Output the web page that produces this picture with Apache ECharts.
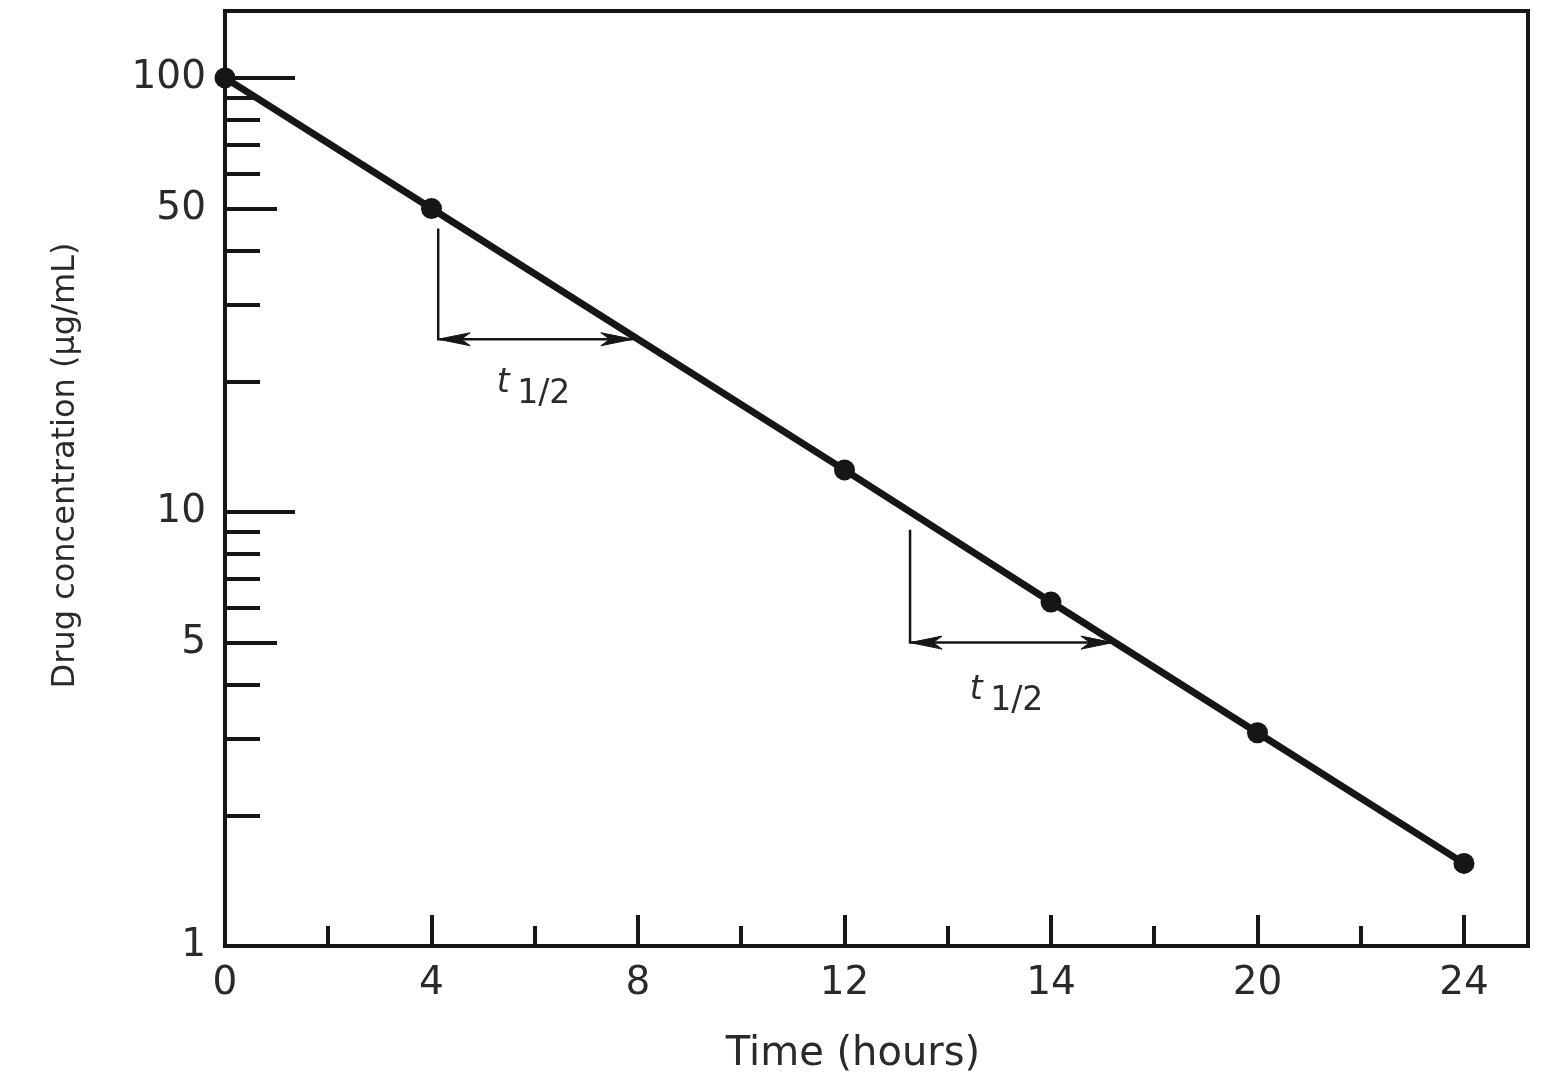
<!DOCTYPE html>
<html>
<head>
<meta charset="utf-8">
<script src="https://cdn.jsdelivr.net/npm/echarts@6/dist/echarts.min.js"></script>
<style>
html,body{margin:0;padding:0;background:#fff}
#c{width:1551px;height:1081px}
</style>
</head>
<body>
<div id="c"></div>
<script>
// ---- data ----
const timeHours = [0, 4, 12, 16, 20, 24];
const concentration = [100, 50, 12.5, 6.2, 3.1, 1.55];

const xTickValues = [0, 4, 8, 12, 16, 20, 24];
const xTickLabels = ['0', '4', '8', '12', '14', '20', '24'];
const xMinorTicks = [2, 6, 10, 14, 18, 22];

const yLabelValues = [1, 5, 10, 50, 100];
const yLabelTexts = ['1', '5', '10', '50', '100'];
const yMajorTicks = [10, 100];
const yMidTicks = [5, 50];
const yMinorTicks = [2, 3, 4, 6, 7, 8, 9, 20, 30, 40, 60, 70, 80, 90];

// half-life brackets (time start, time end, top of vertical, level of arrow)
const halfLifeStart = [4.13, 13.27];
const halfLifeEnd = [7.9, 17.2];
const halfLifeTop = [45, 9.1];
const halfLifeLevel = [25, 5];
const halfLifeLabelT = [5.39, 14.55];
const halfLifeLabelC = [19.8, 3.89];

const xTitle = 'Time (hours)';
const yTitle = 'Drug concentration (μg/mL)';

// ---- chart ----
const ink = '#161616';
const txt = '#2a2a2a';
const FONT = 'DejaVu Sans';

function lookup(values, texts, v) {
  for (let i = 0; i < values.length; i++) {
    if (Math.abs(values[i] - v) < 1e-6 * Math.max(1, Math.abs(v))) return texts[i];
  }
  return '';
}

const chart = echarts.init(document.getElementById('c'), null, {renderer: 'canvas'});

const commonY = {
  type: 'log', logBase: 10, min: 1, max: 142.6, gridIndex: 0, position: 'left',
  splitLine: {show: false}, minorTick: {show: false}, minorSplitLine: {show: false}
};
const commonX = {
  type: 'value', min: 0, max: 25.24, gridIndex: 0, position: 'bottom',
  splitLine: {show: false}, minorTick: {show: false}
};

const halfLifeData = halfLifeStart.map((s, i) => [s, halfLifeEnd[i], halfLifeTop[i], halfLifeLevel[i], halfLifeLabelT[i], halfLifeLabelC[i]]);

function arrowHead(tip, dir) {
  const L = 32, w = 6.5, notch = 23;
  return [
    [tip[0], tip[1]],
    [tip[0] + dir * L, tip[1] - w],
    [tip[0] + dir * notch, tip[1]],
    [tip[0] + dir * L, tip[1] + w]
  ];
}

const option = {
  backgroundColor: '#ffffff',
  animation: false,
  grid: {
    left: 225, right: 23, top: 11, bottom: 135,
    show: true, borderColor: ink, borderWidth: 4, backgroundColor: 'transparent',
    containLabel: false, outerBoundsMode: 'none'
  },
  xAxis: [
    Object.assign({}, commonX, {
      name: xTitle, nameLocation: 'middle', nameGap: 89,
      nameTextStyle: {fontFamily: FONT, fontSize: 40, color: txt, padding: [0, 47, 0, 0]},
      axisLine: {show: true, onZero: false, lineStyle: {color: ink, width: 4}},
      axisTick: {show: true, inside: true, length: 31, customValues: [4, 8, 12, 16, 20, 24], lineStyle: {color: ink, width: 4}},
      axisLabel: {
        show: true, customValues: xTickValues, margin: 18,
        fontFamily: FONT, fontSize: 39, color: txt,
        formatter: v => lookup(xTickValues, xTickLabels, v)
      }
    }),
    Object.assign({}, commonX, {
      axisLine: {show: false, onZero: false},
      axisTick: {show: true, inside: true, length: 20, customValues: xMinorTicks, lineStyle: {color: ink, width: 4}},
      axisLabel: {show: false}
    })
  ],
  yAxis: [
    Object.assign({}, commonY, {
      name: yTitle, nameLocation: 'middle', nameGap: 143,
      nameTextStyle: {fontFamily: FONT, fontSize: 32, color: txt, padding: [0, 0, 0, 26]},
      axisLine: {show: true, onZero: false, lineStyle: {color: ink, width: 4}},
      axisTick: {show: true, inside: true, length: 70, customValues: yMajorTicks, lineStyle: {color: ink, width: 4}},
      axisLabel: {
        show: true, customValues: yLabelValues, margin: 19,
        fontFamily: FONT, fontSize: 39, color: txt,
        formatter: v => lookup(yLabelValues, yLabelTexts, v)
      }
    }),
    Object.assign({}, commonY, {
      axisLine: {show: false, onZero: false},
      axisTick: {show: true, inside: true, length: 52, customValues: yMidTicks, lineStyle: {color: ink, width: 4}},
      axisLabel: {show: false}
    }),
    Object.assign({}, commonY, {
      axisLine: {show: false, onZero: false},
      axisTick: {show: true, inside: true, length: 35, customValues: yMinorTicks, lineStyle: {color: ink, width: 4}},
      axisLabel: {show: false}
    })
  ],
  series: [
    {
      type: 'custom',
      name: 'half-life',
      xAxisIndex: 0, yAxisIndex: 0,
      clip: false,
      silent: true,
      encode: {x: [0, 1, 4], y: [2, 3, 5]},
      data: halfLifeData,
      renderItem: function (params, api) {
        const pTop = api.coord([api.value(0), api.value(2)]);
        const pCorner = api.coord([api.value(0), api.value(3)]);
        const pTip = api.coord([api.value(1), api.value(3)]);
        const pLab = api.coord([api.value(4), api.value(5)]);
        return {
          type: 'group',
          children: [
            {type: 'polyline', shape: {points: [pTop, pCorner, pTip]}, style: {stroke: ink, lineWidth: 2.5, fill: null}},
            {type: 'polygon', shape: {points: arrowHead(pCorner, 1)}, style: {fill: ink, stroke: ink, lineWidth: 1}},
            {type: 'polygon', shape: {points: arrowHead(pTip, -1)}, style: {fill: ink, stroke: ink, lineWidth: 1}},
            {type: 'text', x: pLab[0], y: pLab[1], style: {text: 't', fontFamily: FONT, fontSize: 33, fontStyle: 'italic', fill: txt, align: 'center', verticalAlign: 'middle'}},
            {type: 'text', x: pLab[0] + 14, y: pLab[1] + 11, style: {text: '1/2', fontFamily: FONT, fontSize: 33, fill: txt, align: 'left', verticalAlign: 'middle'}}
          ]
        };
      },
      z: 3
    },
    {
      type: 'line',
      name: 'Drug concentration',
      xAxisIndex: 0, yAxisIndex: 0,
      data: timeHours.map((t, i) => [t, concentration[i]]),
      symbol: 'circle',
      symbolSize: 21,
      showAllSymbol: true,
      clip: false,
      lineStyle: {color: ink, width: 7},
      itemStyle: {color: ink, borderWidth: 0},
      z: 4
    }
  ]
};

chart.setOption(option);
</script>
</body>
</html>
